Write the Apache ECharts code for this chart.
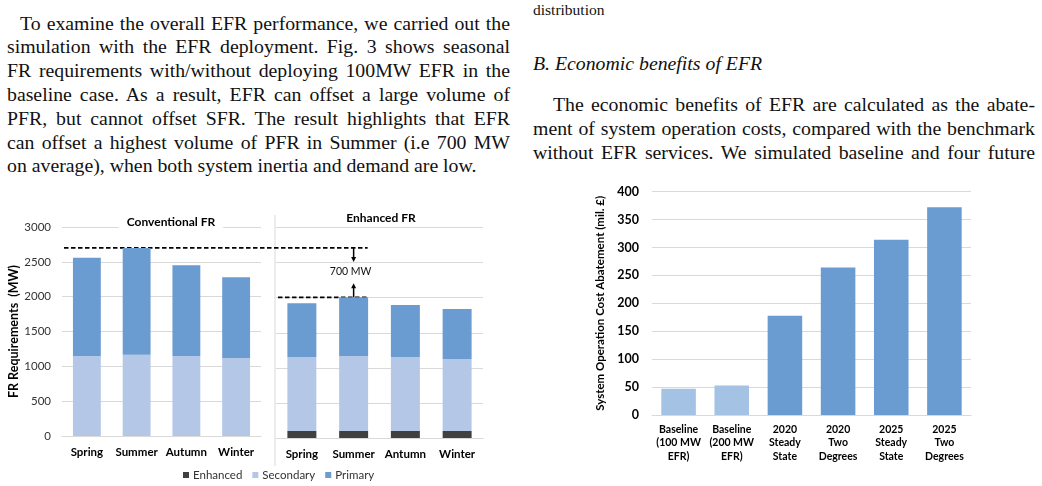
<!DOCTYPE html>
<html>
<head>
<meta charset="utf-8">
<script src="https://cdn.jsdelivr.net/npm/echarts@6/dist/echarts.min.js"></script>
<style>
  html, body { margin: 0; padding: 0; background: #fff; }
  body { width: 1042px; height: 486px; position: relative; overflow: hidden; }
  .ln { position: absolute; font-family: "Liberation Serif", "Times New Roman", serif; font-size: 19.8px; line-height: 24px; color: #111; white-space: nowrap; }
  .j { text-align: justify; text-align-last: justify; white-space: normal; }
  #chartFR { position: absolute; left: 0; top: 200px; width: 500px; height: 286px; }
  #chartCost { position: absolute; left: 580px; top: 180px; width: 462px; height: 306px; }
</style>
</head>
<body>
<!-- left column text -->
<div class="ln j" style="left:20px;top:11px;width:490px;">To examine the overall EFR performance, we carried out the</div>
<div class="ln j" style="left:7px;top:34px;width:503px;">simulation with the EFR deployment. Fig. 3 shows seasonal</div>
<div class="ln j" style="left:7px;top:58px;width:503px;">FR requirements with/without deploying 100MW EFR in the</div>
<div class="ln j" style="left:7px;top:82px;width:503px;">baseline case. As a result, EFR can offset a large volume of</div>
<div class="ln j" style="left:7px;top:106px;width:503px;">PFR, but cannot offset SFR. The result highlights that EFR</div>
<div class="ln j" style="left:7px;top:130px;width:503px;">can offset a highest volume of PFR in Summer (i.e 700 MW</div>
<div class="ln" style="left:7px;top:153px;">on average), when both system inertia and demand are low.</div>

<!-- right column text -->
<div class="ln" style="left:533px;top:0px;font-size:15.5px;line-height:20px;">distribution</div>
<div class="ln" style="left:533px;top:51px;font-style:italic;">B. Economic benefits of EFR</div>
<div class="ln j" style="left:553px;top:92px;width:482px;">The economic benefits of EFR are calculated as the abate-</div>
<div class="ln j" style="left:533px;top:116px;width:502px;">ment of system operation costs, compared with the benchmark</div>
<div class="ln j" style="left:533px;top:140px;width:502px;">without EFR services. We simulated baseline and four future</div>

<div id="chartFR"></div>
<div id="chartCost"></div>

<script>
// FR requirements (MW), seasonal
const seasons = ['Spring', 'Summer', 'Autumn', 'Winter'];
const seasonsEnh = ['Spring', 'Summer', 'Antumn', 'Winter'];
const convSecondary = [1150, 1165, 1150, 1120];
const convPrimary = [1410, 1535, 1300, 1160];
const enhEnhanced = [100, 100, 100, 100];
const enhSecondary = [1055, 1070, 1055, 1025];
const enhPrimary = [765, 835, 740, 715];
const frTicks = [0, 3000, 500]; // min, max, step

// system operation cost abatement (mil. £)
const scenarios = ['Baseline\n(100 MW\nEFR)', 'Baseline\n(200 MW\nEFR)', '2020\nSteady\nState', '2020\nTwo\nDegrees', '2025\nSteady\nState', '2025\nTwo\nDegrees'];
const abatement = [47, 53, 178, 264, 314, 372];
const costTicks = [0, 400, 50];

const FONT = 'Lato, "Open Sans", sans-serif';
const C_PRI = '#6a9bd1';
const C_SEC = '#b4c7e7';
const C_ENH = '#404040';
const C_GRID = '#d9d9d9';
const plain = function (v) { return String(v); };

// ---------- left chart ----------
const frChart = echarts.init(document.getElementById('chartFR'));

function yAx(idx, showLabels) {
  return {
    type: 'value', gridIndex: idx,
    min: frTicks[0], max: frTicks[1], interval: frTicks[2],
    name: showLabels ? 'FR Requirements  (MW)' : '',
    nameLocation: 'middle', nameGap: 41, nameRotate: 90,
    nameTextStyle: { fontFamily: FONT, fontWeight: 'bold', fontSize: 12.5, color: '#000' },
    axisLabel: { show: showLabels, formatter: plain, fontFamily: FONT, fontSize: 11.5, color: '#333', margin: 11 },
    splitLine: { lineStyle: { color: C_GRID } },
    axisLine: { show: false }, axisTick: { show: false }
  };
}
function xAx(idx, cats) {
  return {
    type: 'category', gridIndex: idx, data: cats,
    axisLine: { lineStyle: { color: C_GRID } }, axisTick: { show: false },
    axisLabel: { interval: 0, fontFamily: FONT, fontWeight: 'bold', fontSize: 11.5, color: '#000', margin: 10 }
  };
}
function bar(name, xi, stack, data, color) {
  return {
    name: name, type: 'bar', xAxisIndex: xi, yAxisIndex: xi, stack: stack,
    data: data, barWidth: '56%', itemStyle: { color: color }, silent: true
  };
}

frChart.setOption({
  animation: false,
  textStyle: { fontFamily: FONT },
  title: [
    { text: 'Conventional FR', left: 163, top: 14, textAlign: 'center', padding: [2, 8],
      backgroundColor: '#fff', textStyle: { fontFamily: FONT, fontSize: 12, fontWeight: 'bold', color: '#000' } },
    { text: 'Enhanced FR', left: 373, top: 10, textAlign: 'center', padding: [2, 8],
      backgroundColor: '#fff', textStyle: { fontFamily: FONT, fontSize: 12, fontWeight: 'bold', color: '#000' } }
  ],
  legend: {
    left: 178, top: 264, itemWidth: 6, itemHeight: 6, itemGap: 10,
    icon: 'rect',
    data: ['Enhanced', 'Secondary', 'Primary'],
    textStyle: { fontFamily: FONT, fontSize: 11.5, color: '#333', padding: [0, 0, 0, -1] }
  },
  grid: [
    { left: 62, right: 239, top: 27, bottom: 50 },
    { left: 276, right: 17, top: 27.5, bottom: 48 }
  ],
  xAxis: [xAx(0, seasons), xAx(1, seasonsEnh)],
  yAxis: [yAx(0, true), yAx(1, false)],
  series: [
    bar('Secondary', 0, 'c', convSecondary, C_SEC),
    bar('Primary', 0, 'c', convPrimary, C_PRI),
    bar('Enhanced', 1, 'e', enhEnhanced, C_ENH),
    bar('Secondary', 1, 'e', enhSecondary, C_SEC),
    bar('Primary', 1, 'e', enhPrimary, C_PRI)
  ]
});

// annotation: 700 MW offset in summer
(function () {
  const convTop = convSecondary[1] + convPrimary[1];
  const enhTop = enhEnhanced[1] + enhSecondary[1] + enhPrimary[1];
  const yHi = frChart.convertToPixel({ yAxisIndex: 0 }, convTop);
  const yLo = frChart.convertToPixel({ yAxisIndex: 1 }, enhTop);
  const xArrow = frChart.convertToPixel({ xAxisIndex: 1 }, seasonsEnh[1]);
  const xEnd = xArrow + 14;
  const dash = { stroke: '#000', lineWidth: 1.8, lineDash: [4.5, 2.5] };
  const solid = { stroke: '#000', lineWidth: 1.5 };
  frChart.setOption({
    graphic: [
      { type: 'line', shape: { x1: 275, y1: 15, x2: 275, y2: 266 }, style: { stroke: C_GRID, lineWidth: 1 } },
      { type: 'line', shape: { x1: 64, y1: yHi, x2: xEnd, y2: yHi }, style: dash },
      { type: 'line', shape: { x1: 278, y1: yLo, x2: xEnd, y2: yLo }, style: dash },
      { type: 'line', shape: { x1: xArrow, y1: yHi, x2: xArrow, y2: yHi + 10 }, style: solid },
      { type: 'polygon', shape: { points: [[xArrow - 2.5, yHi + 9], [xArrow + 2.5, yHi + 9], [xArrow, yHi + 14]] }, style: { fill: '#000' } },
      { type: 'line', shape: { x1: xArrow, y1: yLo, x2: xArrow, y2: yLo - 10 }, style: solid },
      { type: 'polygon', shape: { points: [[xArrow - 2.5, yLo - 9], [xArrow + 2.5, yLo - 9], [xArrow, yLo - 14]] }, style: { fill: '#000' } },
      { type: 'text', x: xArrow - 3, y: (yHi + yLo) / 2 - 0.5,
        style: { text: '700 MW', fontFamily: FONT, fontSize: 10.5, fill: '#111', align: 'center', verticalAlign: 'middle' } }
    ]
  });
})();

// ---------- right chart ----------
const costChart = echarts.init(document.getElementById('chartCost'));
costChart.setOption({
  animation: false,
  textStyle: { fontFamily: FONT },
  grid: { left: 72, right: 71, top: 11.7, bottom: 71 },
  xAxis: {
    type: 'category', data: scenarios,
    axisLine: { lineStyle: { color: C_GRID } }, axisTick: { show: false },
    axisLabel: { fontFamily: FONT, fontWeight: 'bold', fontSize: 10.5, lineHeight: 13.3, color: '#000', margin: 8, interval: 0 }
  },
  yAxis: {
    type: 'value', min: costTicks[0], max: costTicks[1], interval: costTicks[2],
    name: 'System Operation Cost Abatement (mil. £)',
    nameLocation: 'middle', nameGap: 45, nameRotate: 90,
    nameTextStyle: { fontFamily: FONT, fontWeight: 'bold', fontSize: 11.5, color: '#000' },
    axisLabel: { fontFamily: FONT, fontWeight: 'bold', fontSize: 12.5, color: '#000', margin: 13 },
    splitLine: { lineStyle: { color: C_GRID } },
    axisLine: { show: false }, axisTick: { show: false }
  },
  series: [{
    type: 'bar', data: abatement, barWidth: '65%', silent: true,
    itemStyle: {
      color: function (p) { return p.name.indexOf('Baseline') === 0 ? '#a4c3e4' : C_PRI; }
    }
  }]
});
</script>
</body>
</html>
